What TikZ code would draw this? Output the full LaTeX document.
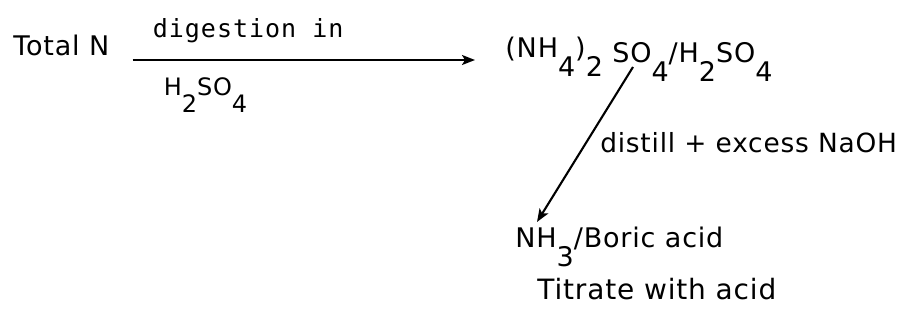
\documentclass[tikz,border=0pt]{standalone}
\usepackage{fontspec}
\setmainfont{DejaVu Sans}[LetterSpace=3.0]
\newfontfamily\typefont[LetterSpace=4.0]{DejaVu Sans Mono}
\usetikzlibrary{arrows.meta,positioning,calc}
\newcommand{\lowsub}[1]{\raisebox{-0.72em}{#1}}

\begin{document}
\begin{tikzpicture}[
    x=0.5pt, y=-0.5pt,
    font=\fontsize{13.5}{15}\selectfont,
    chem/.style={inner sep=2pt, anchor=base west},
    typed/.style={inner sep=2pt, anchor=base west, font=\fontsize{12.5}{15}\selectfont\typefont},
    arr/.style={-{Stealth[length=6.5pt,width=5pt,inset=1.5pt]}, line width=1.05pt},
  ]
  \useasboundingbox (0,0) rectangle (905,332);

  %% -- species
  \node[chem] (totn)  at (9,55)    {Total N};
  \node[chem] (salt)  at (501,57)  {(NH\lowsub{4})\lowsub{2} \raisebox{-2.5pt}{SO\lowsub{4}/H\lowsub{2}SO\lowsub{4}}};
  \node[chem] (boric) at (511,247) {NH\lowsub{3}/Boric acid};
  \node[chem, font=\fontsize{14}{16}\selectfont] (titr) at ($(boric.base west)+(22,52)$) {Titrate with acid};

  %% -- digestion step
  \draw[arr] ([xshift=9.5pt,yshift=-2.5pt]totn.base east) -- ([xshift=-13pt,yshift=-1.5pt]salt.base west)
      node[typed, pos=0.044, yshift=11.5pt] (dig) {digestion in}
      node[chem, pos=0.076, yshift=-17.5pt, font=\fontsize{12}{14}\selectfont] (acid) {H\lowsub{2}SO\lowsub{4}};

  %% -- distillation step
  \draw[arr] ([xshift=66pt,yshift=-5pt]salt.base west) -- ([xshift=13pt,yshift=12.5pt]boric.base west)
      node[chem, pos=0.55, xshift=7.5pt, font=\fontsize{13.2}{15}\selectfont] (naoh) {distill + excess NaOH};
\end{tikzpicture}
\end{document}
